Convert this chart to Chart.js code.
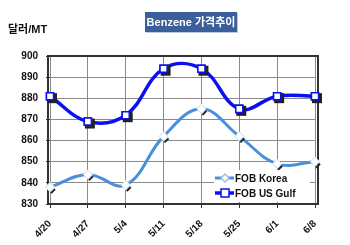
<!DOCTYPE html>
<html>
<head>
<meta charset="utf-8">
<script src="https://cdn.jsdelivr.net/npm/chart.js@4.4.0/dist/chart.umd.min.js"></script>
<style>
  html, body { margin: 0; padding: 0; background: #fff; }
  #wrap { position: relative; width: 350px; height: 245px; }
  #title {
    position: absolute; left: 145px; top: 12px; width: 92px; height: 20px;
    background: #3a5f9a; color: #fff; font: bold 11px Arial, "Liberation Sans", "Noto Sans CJK KR", sans-serif;
    line-height: 20px; text-align: center; box-shadow: 1px 1px 0 #bcc8dc;
  }
  #unit {
    position: absolute; left: 8px; top: 20px;
    font: bold 11px Arial, "Liberation Sans", "Noto Sans CJK KR", sans-serif; color: #111;
  }
</style>
</head>
<body>
<div id="wrap">
  <canvas id="chart" width="350" height="245"></canvas>
  <div id="title">Benzene 가격추이</div>
  <div id="unit">달러/MT</div>
</div>
<script>
const weeks = ['4/20', '4/27', '5/4', '5/11', '5/18', '5/25', '6/1', '6/8'];
const fobKorea = [838, 844, 839, 862, 875, 862, 849, 850];
const fobUsGulf = [881, 869, 872, 894, 894, 875, 881, 881];
const yTicks = [830, 840, 850, 860, 870, 880, 890, 900];

const koreaColor = '#4a8fdb';
const gulfColor = '#0a10f0';

// outer frame of the plot, slightly wider than the points
const framePlugin = {
  id: 'frame',
  beforeDatasetsDraw(chart) {
    const { ctx, chartArea } = chart;
    ctx.save();
    ctx.strokeStyle = '#333';
    ctx.lineWidth = 2;
    ctx.strokeRect(chartArea.left - 2, chartArea.top, chartArea.width + 5, chartArea.height);
    ctx.restore();
  }
};

// thin dark shadow under each marker, then the marker again on top
const shadowPlugin = {
  id: 'markerShadow',
  afterDatasetDraw(chart, args) {
    const { ctx } = chart;
    const meta = args.meta;
    ctx.save();
    ctx.fillStyle = '#222';
    ctx.strokeStyle = '#222';
    meta.data.forEach(pt => {
      const r = pt.options.radius;
      if (pt.options.pointStyle === 'rect') {
        ctx.fillRect(pt.x - r + 2, pt.y - r + 2, r * 2, r * 2);
      } else {
        ctx.lineWidth = 2;
        ctx.beginPath();
        ctx.moveTo(pt.x + 1, pt.y + r + 1.5);
        ctx.lineTo(pt.x + r + 0.5, pt.y + 2);
        ctx.stroke();
      }
    });
    ctx.restore();
    meta.data.forEach(pt => pt.draw(ctx, chart.chartArea));
  }
};

// legend drawn inside the plot, bottom right
const legendPlugin = {
  id: 'innerLegend',
  afterDraw(chart) {
    const { ctx } = chart;
    const items = chart.data.datasets;
    ctx.save();
    ctx.fillStyle = '#fff';
    ctx.fillRect(214, 170, 96, 32);
    items.forEach((ds, i) => {
      const y = 178 + i * 15;
      ctx.strokeStyle = ds.borderColor;
      ctx.lineWidth = ds.borderWidth;
      ctx.beginPath();
      ctx.moveTo(215, y);
      ctx.lineTo(234, y);
      ctx.stroke();
      ctx.fillStyle = '#fff';
      ctx.strokeStyle = ds.pointStyle === 'rect' ? ds.pointBorderColor : '#9bbde6';
      ctx.lineWidth = 1.5;
      if (ds.pointStyle === 'rect') {
        ctx.fillRect(221, y - 4, 8, 8);
        ctx.strokeRect(221, y - 4, 8, 8);
      } else {
        ctx.beginPath();
        ctx.moveTo(225, y - 4);
        ctx.lineTo(229, y);
        ctx.lineTo(225, y + 4);
        ctx.lineTo(221, y);
        ctx.closePath();
        ctx.fill();
        ctx.stroke();
      }
      ctx.fillStyle = '#111';
      ctx.font = 'bold 10px Arial, "Liberation Sans", sans-serif';
      ctx.textBaseline = 'middle';
      ctx.fillText(ds.label, 235, y + 1);
    });
    ctx.restore();
  }
};

new Chart(document.getElementById('chart').getContext('2d'), {
  type: 'line',
  data: {
    labels: weeks,
    datasets: [
      {
        label: 'FOB Korea',
        data: fobKorea,
        borderColor: koreaColor,
        borderWidth: 3,
        tension: 0.4,
        pointStyle: 'rectRot',
        pointRadius: 4.5,
        pointBackgroundColor: '#fff',
        pointBorderColor: '#cfdff2',
        pointBorderWidth: 1
      },
      {
        label: 'FOB US Gulf',
        data: fobUsGulf,
        borderColor: gulfColor,
        borderWidth: 3.5,
        tension: 0.4,
        pointStyle: 'rect',
        pointRadius: 5,
        pointBackgroundColor: '#fff',
        pointBorderColor: gulfColor,
        pointBorderWidth: 1.5
      }
    ]
  },
  options: {
    responsive: false,
    animation: false,
    layout: { padding: { top: 56, right: 35, left: 0, bottom: 0 } },
    plugins: { legend: { display: false }, tooltip: { enabled: false } },
    scales: {
      x: {
        offset: false,
        grid: { color: '#8a8a8a', lineWidth: 1, tickLength: 4, tickColor: '#333' },
        border: { display: false },
        ticks: {
          minRotation: 45, maxRotation: 45, padding: 10,
          color: '#111',
          font: { family: 'Arial, "Liberation Sans", sans-serif', size: 10, weight: 'bold' }
        },
        afterFit(scale) { scale.height = 41; }
      },
      y: {
        min: 830, max: 900,
        afterBuildTicks(scale) { scale.ticks = yTicks.map(v => ({ value: v })); },
        grid: { color: '#8a8a8a', lineWidth: 1, tickLength: 4, tickColor: '#333' },
        border: { display: false },
        ticks: {
          padding: 8,
          color: '#111',
          font: { family: 'Arial, "Liberation Sans", sans-serif', size: 10, weight: 'bold' }
        },
        afterFit(scale) { scale.width = 50; }
      }
    }
  },
  plugins: [framePlugin, shadowPlugin, legendPlugin]
});
</script>
</body>
</html>
